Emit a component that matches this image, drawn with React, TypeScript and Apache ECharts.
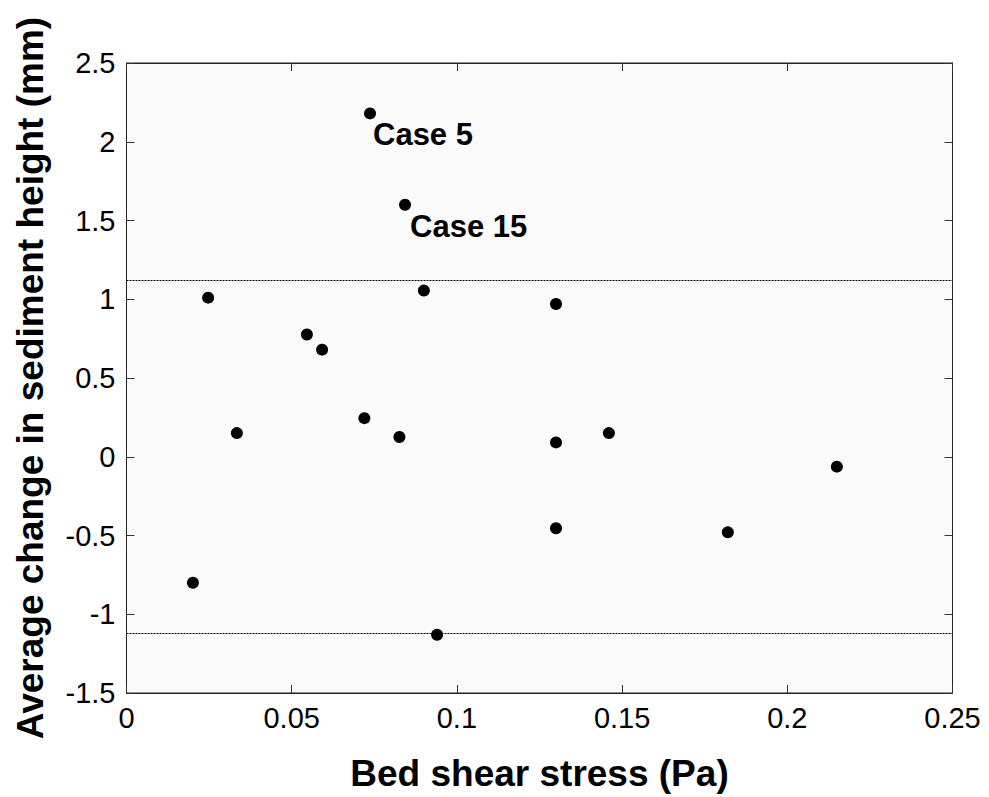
import React, { useEffect, useRef } from "react";
import * as echarts from "echarts";

// Bed shear stress (Pa) and mean change in sediment height (mm) per case
const shearStress = [
  0.0247, 0.0201, 0.0334, 0.0546, 0.0592, 0.072, 0.0737, 0.0826, 0.0843,
  0.09, 0.094, 0.13, 0.13, 0.13, 0.146, 0.182, 0.215,
];
const heightChange = [
  1.01, -0.8, 0.15, 0.776, 0.68, 0.245, 2.18, 0.125, 1.6, 1.055, -1.13, 0.97,
  0.091, -0.454, 0.15, -0.48, -0.063,
];
// Named cases (index into the arrays above)
const caseLabels: { index: number; text: string; offset: [number, number] }[] = [
  { index: 6, text: "Case 5", offset: [9, 12] },
  { index: 8, text: "Case 15", offset: [11, 12] },
];
// Threshold band (mm)
const thresholds = [1.12, -1.12];

const FONT = "'Liberation Sans', Arial, Helvetica, sans-serif";

export default function App() {
  const ref = useRef<HTMLDivElement>(null);

  useEffect(() => {
    if (!ref.current) return;
    const chart = echarts.init(ref.current, null, { renderer: "svg" });

    const points = shearStress.map((x, i) => {
      const lbl = caseLabels.find((c) => c.index === i);
      const item: any = { value: [x, heightChange[i]] };
      if (lbl) {
        item.label = {
          show: true,
          formatter: lbl.text,
          position: lbl.offset,
          align: "left",
          verticalAlign: "top",
          fontFamily: FONT,
          fontWeight: "bold",
          fontSize: 31,
          color: "#000",
        };
      }
      return item;
    });

    // Inward ticks on all four sides of the box
    const tick = () => ({ show: true, inside: true, length: 8, lineStyle: { color: "#333", width: 1 } });
    const line = () => ({ show: true, onZero: false, lineStyle: { color: "#222", width: 1 } });
    const tickFormatter = (v: number) => String(+v.toFixed(2));

    chart.setOption({
      animation: false,
      backgroundColor: "#ffffff",
      grid: {
        z: 0,
        left: 126.5,
        right: 36.5,
        top: 63,
        bottom: 103,
        show: true,
        backgroundColor: "#fafafa",
        borderColor: "#222",
        borderWidth: 1,
      },
      xAxis: [
        {
          type: "value",
          z: 5,
          min: 0,
          max: 0.25,
          interval: 0.05,
          name: "Bed shear stress (Pa)",
          nameLocation: "middle",
          nameGap: 62,
          nameTextStyle: { fontFamily: FONT, fontWeight: "bold", fontSize: 37, color: "#000" },
          axisLine: line(),
          axisTick: tick(),
          splitLine: { show: false },
          axisLabel: { margin: 10, fontFamily: FONT, fontSize: 29, color: "#000", formatter: tickFormatter },
        },
        {
          type: "value",
          z: 5,
          position: "top",
          min: 0,
          max: 0.25,
          interval: 0.05,
          axisLine: line(),
          axisTick: tick(),
          axisLabel: { show: false },
          splitLine: { show: false },
        },
      ],
      yAxis: [
        {
          type: "value",
          z: 5,
          min: -1.5,
          max: 2.5,
          interval: 0.5,
          name: "Average change in sediment height (mm)",
          nameLocation: "middle",
          nameGap: 78,
          nameTextStyle: { fontFamily: FONT, fontWeight: "bold", fontSize: 37, color: "#000" },
          axisLine: line(),
          axisTick: tick(),
          splitLine: { show: false },
          axisLabel: { margin: 11, fontFamily: FONT, fontSize: 29, color: "#000", formatter: tickFormatter },
        },
        {
          type: "value",
          z: 5,
          position: "right",
          min: -1.5,
          max: 2.5,
          interval: 0.5,
          axisLine: line(),
          axisTick: tick(),
          axisLabel: { show: false },
          splitLine: { show: false },
        },
      ],
      series: [
        {
          type: "scatter",
          xAxisIndex: 0,
          yAxisIndex: 0,
          z: 6,
          symbol: "circle",
          symbolSize: 12,
          itemStyle: { color: "#000", opacity: 1 },
          data: points,
          markLine: {
            silent: true,
            symbol: "none",
            label: { show: false },
            lineStyle: { type: [2, 1], color: "#000", width: 1, opacity: 1 },
            data: thresholds.map((t) => ({ yAxis: t })),
          },
        },
      ],
    });

    return () => chart.dispose();
  }, []);

  return (
    <div
      ref={ref}
      style={{ position: "fixed", left: 0, top: 0, width: 989, height: 797, background: "#fff" }}
    />
  );
}
